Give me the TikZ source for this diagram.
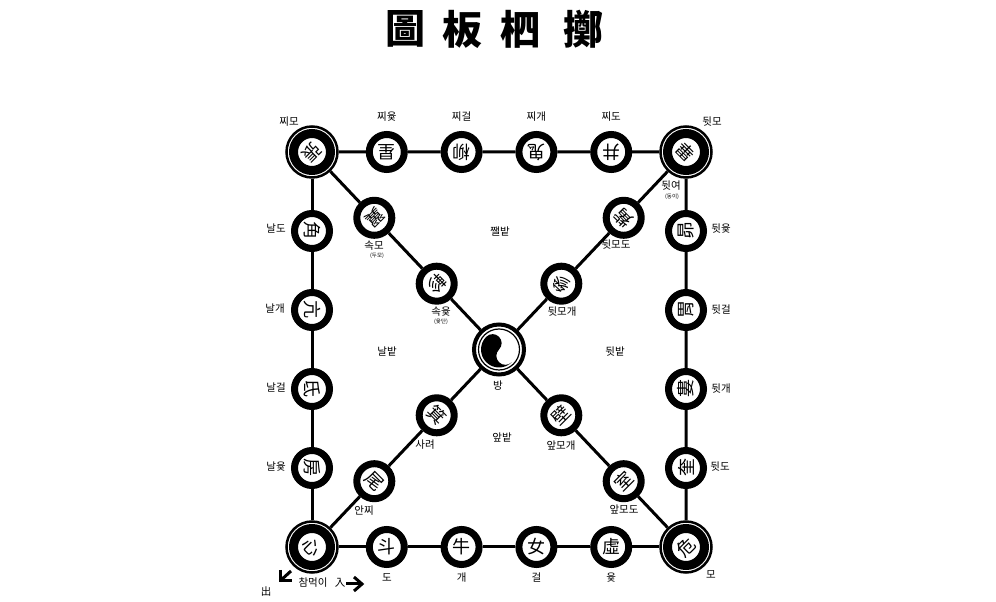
\documentclass[tikz,border=0pt]{standalone}
\usepackage{fontspec}
\newfontfamily\hanfont{Noto Sans CJK TC}
\newfontfamily\korfont{Noto Sans CJK KR}
\begin{document}
\begin{tikzpicture}[x=1pt,y=1pt,
  conn/.style={line width=3pt},
  stn/.style={circle,draw=black,fill=white,line width=7pt,minimum size=35pt,inner sep=0pt,font=\hanfont\fontsize{18}{18}\selectfont},
  crn/.style={circle,draw=black,fill=white,line width=2.5pt,minimum size=51pt,inner sep=0pt,font=\hanfont\fontsize{18}{18}\selectfont,
    path picture={\draw[black,line width=9pt] (path picture bounding box.center) circle[radius=18.5pt];}},
  cen/.style={circle,draw=black,fill=white,line width=4pt,minimum size=50pt,inner sep=0pt,
    path picture={
      \draw[black,line width=1.2pt] (path picture bounding box.center) circle[radius=20.5pt];
      \fill[black] (path picture bounding box.center) ++(135:18pt) arc[start angle=135,end angle=315,radius=18pt]
        arc[start angle=315,end angle=135,radius=9pt] arc[start angle=-45,end angle=135,radius=9pt] -- cycle;}},
  lbl/.style={font=\korfont\fontsize{10.5}{10.5}\selectfont,inner sep=0pt},
  sub/.style={font=\korfont\fontsize{5.5}{5.5}\selectfont,inner sep=0pt},
  ttl/.style={font=\hanfont\bfseries\fontsize{40}{40}\selectfont,inner sep=0pt},
  arrowmark/.style={line width=3pt},
]
\useasboundingbox (0,0) rectangle (996,602);
\fill[white] (0,0) rectangle (996,602);
% title
\node[ttl] (t1) at (405,573) {圖};
\node[ttl] (t2) at (462,573) {板};
\node[ttl] (t3) at (520,573) {柶};
\node[ttl] (t4) at (583,573) {擲};
% corners and centre
\node[crn,rotate=-135] (TL) at (312,450) {張};
\node[crn,rotate=135] (TR) at (686,450) {畢};
\node[crn,rotate=-45] (BL) at (312,55) {心};
\node[crn,rotate=45] (BR) at (686,55) {危};
\node[cen] (C) at (499,252.5) {};
% top row
\node[stn,rotate=180] (T1) at (386.8,450) {星};
\node[stn,rotate=180] (T2) at (461.6,450) {柳};
\node[stn,rotate=180] (T3) at (536.4,450) {鬼};
\node[stn,rotate=180] (T4) at (611.2,450) {井};
% right column
\node[stn,rotate=90] (R1) at (686,371) {昴};
\node[stn,rotate=90] (R2) at (686,292) {胃};
\node[stn,rotate=90] (R3) at (686,213) {婁};
\node[stn,rotate=90] (R4) at (686,134) {奎};
% bottom row
\node[stn] (B1) at (386.8,55) {斗};
\node[stn] (B2) at (461.6,55) {牛};
\node[stn] (B3) at (536.4,55) {女};
\node[stn] (B4) at (611.2,55) {虛};
% left column
\node[stn,rotate=-90] (L1) at (312,371) {角};
\node[stn,rotate=-90] (L2) at (312,292) {亢};
\node[stn,rotate=-90] (L3) at (312,213) {氐};
\node[stn,rotate=-90] (L4) at (312,134) {房};
% diagonals
\node[stn,rotate=-135] (D1) at (374.3,384.2) {翼};
\node[stn,rotate=-135] (D2) at (436.7,318.3) {軫};
\node[stn,rotate=135] (E1) at (623.7,384.2) {觜};
\node[stn,rotate=135] (E2) at (561.3,318.3) {參};
\node[stn,rotate=-45] (F1) at (374.3,120.8) {尾};
\node[stn,rotate=-45] (F2) at (436.7,186.7) {箕};
\node[stn,rotate=45] (G1) at (623.7,120.8) {室};
\node[stn,rotate=45] (G2) at (561.3,186.7) {壁};
% connectors
\draw[conn] (TL)--(T1) (T1)--(T2) (T2)--(T3) (T3)--(T4) (T4)--(TR);
\draw[conn] (TR)--(R1) (R1)--(R2) (R2)--(R3) (R3)--(R4) (R4)--(BR);
\draw[conn] (BL)--(B1) (B1)--(B2) (B2)--(B3) (B3)--(B4) (B4)--(BR);
\draw[conn] (TL)--(L1) (L1)--(L2) (L2)--(L3) (L3)--(L4) (L4)--(BL);
\draw[conn] (TL)--(D1) (D1)--(D2) (D2)--(C);
\draw[conn] (TR)--(E1) (E1)--(E2) (E2)--(C);
\draw[conn] (BL)--(F1) (F1)--(F2) (F2)--(C);
\draw[conn] (BR)--(G1) (G1)--(G2) (G2)--(C);
% labels
\node[lbl] (l1) at (289,480) {찌모};
\node[lbl] (l2) at (386.8,485) {찌윷};
\node[lbl] (l3) at (461.6,485) {찌걸};
\node[lbl] (l4) at (536.4,485) {찌개};
\node[lbl] (l5) at (611.2,485) {찌도};
\node[lbl] (l6) at (712,480) {뒷모};
\node[lbl] (l7) at (671,416) {뒷여};
\node[sub] (l7s) at (672,405) {(동이)};
\node[lbl] (l8) at (276,373) {날도};
\node[lbl] (l9) at (275,293) {날개};
\node[lbl] (l10) at (276,214) {날걸};
\node[lbl] (l11) at (276,135) {날윷};
\node[lbl] (l12) at (721,373) {뒷윷};
\node[lbl] (l13) at (721,292) {뒷걸};
\node[lbl] (l14) at (721,213) {뒷개};
\node[lbl] (l15) at (720,135) {뒷도};
\node[lbl] (l16) at (374,356) {속모};
\node[sub] (l16s) at (377,346) {(두모)};
\node[lbl] (l17) at (441,290) {속윷};
\node[sub] (l17s) at (441,280) {(윷단)};
\node[lbl] (l18) at (500,370) {쨀밭};
\node[lbl] (l19) at (616,357) {뒷모도};
\node[lbl] (l20) at (562,290) {뒷모개};
\node[lbl] (l21) at (387,250) {날밭};
\node[lbl] (l22) at (615,250) {뒷밭};
\node[lbl] (l23) at (498,216) {방};
\node[lbl] (l24) at (425,157) {사려};
\node[lbl] (l25) at (561,156) {앞모개};
\node[lbl] (l26) at (502,164) {앞밭};
\node[lbl] (l27) at (364,91) {안찌};
\node[lbl] (l28) at (624,92) {앞모도};
\node[lbl] (l29) at (387,24) {도};
\node[lbl] (l30) at (461.6,24) {개};
\node[lbl] (l31) at (536.4,24) {걸};
\node[lbl] (l32) at (611.2,24) {윷};
\node[lbl] (l33) at (711,27) {모};
\node[lbl] (l34) at (313,19) {참먹이};
\node[lbl] (l35) at (340,19) {入};
\node[lbl] (l36) at (266,10) {出};
% arrows
\coordinate (a0) at (280,21);
\coordinate (a1) at (280,32);
\coordinate (a2) at (292,21);
\coordinate (a3) at (291,31);
\draw[arrowmark,line join=miter] (a1)--(a0)--(a2);
\draw[arrowmark] (a0)--(a3);
\coordinate (b0) at (346,18);
\coordinate (b1) at (362,18);
\coordinate (b2) at (354,25);
\coordinate (b3) at (354,11);
\draw[arrowmark] (b0)--(b1);
\draw[arrowmark,line join=miter] (b2)--(b1)--(b3);
\end{tikzpicture}
\end{document}
